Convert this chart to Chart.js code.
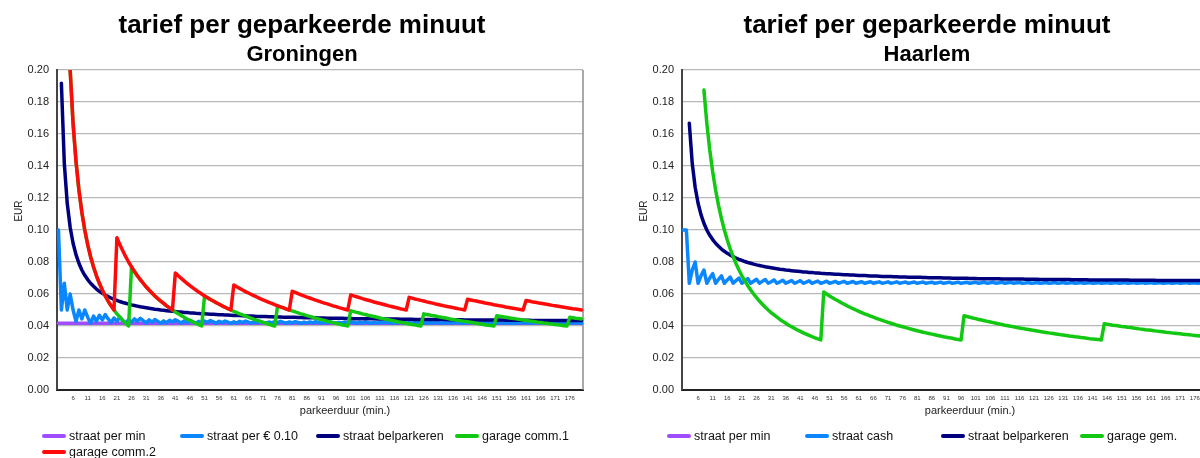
<!DOCTYPE html>
<html><head><meta charset="utf-8">
<script src="https://cdn.jsdelivr.net/npm/chart.js@4.4.1/dist/chart.umd.min.js"></script>
<style>
html,body{margin:0;padding:0;background:#fff;}
body{width:1200px;height:458px;overflow:hidden;position:relative;font-family:"Liberation Sans",Arial,sans-serif;}
.panel{position:absolute;top:0;width:604px;height:458px;}
.panel canvas{position:absolute;left:0;top:0;}
.legend{position:absolute;left:42px;top:428px;display:grid;grid-template-columns:138px 136px 139px 140px;grid-auto-rows:16px;}
.item{display:flex;align-items:center;font-size:12.5px;color:#111;white-space:nowrap;line-height:16px;}
.mark{display:inline-block;width:24px;height:4px;margin-right:3px;border-radius:2px;}
</style></head><body>
<div class="panel" style="left:0"><canvas id="c1" width="604" height="458"></canvas><div class="legend" id="l1"></div></div>
<div class="panel" style="left:625px"><canvas id="c2" width="604" height="458"></canvas><div class="legend" id="l2"></div></div>
<script>
const minutes = [1,2,3,4,5,6,7,8,9,10,11,12,13,14,15,16,17,18,19,20,21,22,23,24,25,26,27,28,29,30,
31,32,33,34,35,36,37,38,39,40,41,42,43,44,45,46,47,48,49,50,51,52,53,54,55,56,57,58,59,60,
61,62,63,64,65,66,67,68,69,70,71,72,73,74,75,76,77,78,79,80,81,82,83,84,85,86,87,88,89,90,
91,92,93,94,95,96,97,98,99,100,101,102,103,104,105,106,107,108,109,110,111,112,113,114,115,116,117,118,119,120,
121,122,123,124,125,126,127,128,129,130,131,132,133,134,135,136,137,138,139,140,141,142,143,144,145,146,147,148,149,150,
151,152,153,154,155,156,157,158,159,160,161,162,163,164,165,166,167,168,169,170,171,172,173,174,175,176,177,178,179,180];

const yTicks = [0,0.02,0.04,0.06,0.08,0.10,0.12,0.14,0.16,0.18,0.20];

// ---------- Groningen ----------
const gronStraatPerMin = [
0.0417,0.0417,0.0417,0.0417,0.0417,0.0417,0.0417,0.0417,0.0417,0.0417,0.0417,0.0417,0.0417,0.0417,0.0417,0.0417,0.0417,0.0417,0.0417,0.0417,
0.0417,0.0417,0.0417,0.0417,0.0417,0.0417,0.0417,0.0417,0.0417,0.0417,0.0417,0.0417,0.0417,0.0417,0.0417,0.0417,0.0417,0.0417,0.0417,0.0417,
0.0417,0.0417,0.0417,0.0417,0.0417,0.0417,0.0417,0.0417,0.0417,0.0417,0.0417,0.0417,0.0417,0.0417,0.0417,0.0417,0.0417,0.0417,0.0417,0.0417,
0.0417,0.0417,0.0417,0.0417,0.0417,0.0417,0.0417,0.0417,0.0417,0.0417,0.0417,0.0417,0.0417,0.0417,0.0417,0.0417,0.0417,0.0417,0.0417,0.0417,
0.0417,0.0417,0.0417,0.0417,0.0417,0.0417,0.0417,0.0417,0.0417,0.0417,0.0417,0.0417,0.0417,0.0417,0.0417,0.0417,0.0417,0.0417,0.0417,0.0417,
0.0417,0.0417,0.0417,0.0417,0.0417,0.0417,0.0417,0.0417,0.0417,0.0417,0.0417,0.0417,0.0417,0.0417,0.0417,0.0417,0.0417,0.0417,0.0417,0.0417,
0.0417,0.0417,0.0417,0.0417,0.0417,0.0417,0.0417,0.0417,0.0417,0.0417,0.0417,0.0417,0.0417,0.0417,0.0417,0.0417,0.0417,0.0417,0.0417,0.0417,
0.0417,0.0417,0.0417,0.0417,0.0417,0.0417,0.0417,0.0417,0.0417,0.0417,0.0417,0.0417,0.0417,0.0417,0.0417,0.0417,0.0417,0.0417,0.0417,0.0417,
0.0417,0.0417,0.0417,0.0417,0.0417,0.0417,0.0417,0.0417,0.0417,0.0417,0.0417,0.0417,0.0417,0.0417,0.0417,0.0417,0.0417,0.0417,0.0417,0.0417];

const gronStraat010 = [
0.1,0.05,0.0667,0.05,0.06,0.05,0.0429,0.05,0.0444,0.05,0.0455,0.0417,
0.0462,0.0429,0.0467,0.0438,0.0471,0.0444,0.0421,0.045,0.0429,0.0455,0.0435,0.0417,
0.044,0.0423,0.0444,0.0429,0.0448,0.0433,0.0419,0.0438,0.0424,0.0441,0.0429,0.0417,
0.0432,0.0421,0.0436,0.0425,0.0439,0.0429,0.0419,0.0432,0.0422,0.0435,0.0426,0.0417,
0.0429,0.042,0.0431,0.0423,0.0434,0.0426,0.0418,0.0429,0.0421,0.0431,0.0424,0.0417,
0.0426,0.0419,0.0429,0.0422,0.0431,0.0424,0.0418,0.0426,0.042,0.0429,0.0423,0.0417,
0.0425,0.0419,0.0427,0.0421,0.0429,0.0423,0.0418,0.0425,0.042,0.0427,0.0422,0.0417,
0.0424,0.0419,0.0425,0.042,0.0427,0.0422,0.0418,0.0424,0.0419,0.0426,0.0421,0.0417,
0.0423,0.0418,0.0424,0.042,0.0426,0.0422,0.0417,0.0423,0.0419,0.0425,0.0421,0.0417,
0.0422,0.0418,0.0423,0.042,0.0425,0.0421,0.0417,0.0422,0.0419,0.0424,0.042,0.0417,
0.0421,0.0418,0.0423,0.0419,0.0424,0.0421,0.0417,0.0422,0.0419,0.0423,0.042,0.0417,
0.0421,0.0418,0.0422,0.0419,0.0423,0.042,0.0417,0.0421,0.0418,0.0423,0.042,0.0417,
0.0421,0.0418,0.0422,0.0419,0.0423,0.042,0.0417,0.0421,0.0418,0.0422,0.0419,0.0417,
0.042,0.0418,0.0421,0.0419,0.0422,0.042,0.0417,0.0421,0.0418,0.0422,0.0419,0.0417,
0.042,0.0418,0.0421,0.0419,0.0422,0.042,0.0417,0.042,0.0418,0.0421,0.0419,0.0417];

const gronBel = [
null,0.1917,0.1417,0.1167,0.1017,0.0917,0.0846,0.0792,0.075,0.0717,
0.069,0.0667,0.0648,0.0631,0.0617,0.0604,0.0593,0.0584,0.0575,0.0567,
0.056,0.0553,0.0547,0.0542,0.0537,0.0532,0.0528,0.0524,0.052,0.0517,
0.0514,0.0511,0.0508,0.0505,0.0503,0.05,0.0498,0.0496,0.0494,0.0492,
0.049,0.0488,0.0487,0.0485,0.0484,0.0482,0.0481,0.0479,0.0478,0.0477,
0.0476,0.0475,0.0474,0.0473,0.0472,0.0471,0.047,0.0469,0.0468,0.0467,
0.0466,0.0465,0.0465,0.0464,0.0463,0.0462,0.0462,0.0461,0.046,0.046,
0.0459,0.0459,0.0458,0.0458,0.0457,0.0456,0.0456,0.0455,0.0455,0.0454,
0.0454,0.0454,0.0453,0.0453,0.0452,0.0452,0.0451,0.0451,0.0451,0.045,
0.045,0.045,0.0449,0.0449,0.0449,0.0448,0.0448,0.0448,0.0447,0.0447,
0.0447,0.0446,0.0446,0.0446,0.0446,0.0445,0.0445,0.0445,0.0445,0.0444,
0.0444,0.0444,0.0444,0.0443,0.0443,0.0443,0.0443,0.0442,0.0442,0.0442,
0.0442,0.0442,0.0441,0.0441,0.0441,0.0441,0.0441,0.044,0.044,0.044,
0.044,0.044,0.044,0.0439,0.0439,0.0439,0.0439,0.0439,0.0439,0.0438,
0.0438,0.0438,0.0438,0.0438,0.0438,0.0438,0.0437,0.0437,0.0437,0.0437,
0.0437,0.0437,0.0437,0.0436,0.0436,0.0436,0.0436,0.0436,0.0436,0.0436,
0.0436,0.0436,0.0435,0.0435,0.0435,0.0435,0.0435,0.0435,0.0435,0.0435,
0.0435,0.0434,0.0434,0.0434,0.0434,0.0434,0.0434,0.0434,0.0434,0.0434];

const gronComm1 = [
null,null,null,null,
0.2,0.1667,0.1429,0.125,0.1111,0.1,0.0909,0.0833,0.0769,0.0714,0.0667,0.0625,0.0588,0.0556,0.0526,0.05,0.0476,0.0455,0.0435,0.0417,0.04,
0.0769,0.0741,0.0714,0.069,0.0667,0.0645,0.0625,0.0606,0.0588,0.0571,0.0556,0.0541,0.0526,0.0513,0.05,0.0488,0.0476,0.0465,0.0455,0.0444,0.0435,0.0426,0.0417,0.0408,0.04,
0.0588,0.0577,0.0566,0.0556,0.0545,0.0536,0.0526,0.0517,0.0508,0.05,0.0492,0.0484,0.0476,0.0469,0.0462,0.0455,0.0448,0.0441,0.0435,0.0429,0.0423,0.0417,0.0411,0.0405,0.04,
0.0526,0.0519,0.0513,0.0506,0.05,0.0494,0.0488,0.0482,0.0476,0.0471,0.0465,0.046,0.0455,0.0449,0.0444,0.044,0.0435,0.043,0.0426,0.0421,0.0417,0.0412,0.0408,0.0404,0.04,
0.0495,0.049,0.0485,0.0481,0.0476,0.0472,0.0467,0.0463,0.0459,0.0455,0.045,0.0446,0.0442,0.0439,0.0435,0.0431,0.0427,0.0424,0.042,0.0417,0.0413,0.041,0.0407,0.0403,0.04,
0.0476,0.0472,0.0469,0.0465,0.0462,0.0458,0.0455,0.0451,0.0448,0.0444,0.0441,0.0438,0.0435,0.0432,0.0429,0.0426,0.0423,0.042,0.0417,0.0414,0.0411,0.0408,0.0405,0.0403,0.04,
0.0464,0.0461,0.0458,0.0455,0.0452,0.0449,0.0446,0.0443,0.044,0.0438,0.0435,0.0432,0.0429,0.0427,0.0424,0.0422,0.0419,0.0417,0.0414,0.0412,0.0409,0.0407,0.0405,0.0402,0.04,
0.0455,0.0452,0.0449,0.0447,0.0444];

const gronComm2 = [
null,null,null,null,
0.2,0.1667,0.1429,0.125,0.1111,0.1,0.0909,0.0833,0.0769,0.0714,0.0667,0.0625,0.0588,0.0556,0.0526,0.05,
0.0952,0.0909,0.087,0.0833,0.08,0.0769,0.0741,0.0714,0.069,0.0667,0.0645,0.0625,0.0606,0.0588,0.0571,0.0556,0.0541,0.0526,0.0513,0.05,
0.0732,0.0714,0.0698,0.0682,0.0667,0.0652,0.0638,0.0625,0.0612,0.06,0.0588,0.0577,0.0566,0.0556,0.0545,0.0536,0.0526,0.0517,0.0508,0.05,
0.0656,0.0645,0.0635,0.0625,0.0615,0.0606,0.0597,0.0588,0.058,0.0571,0.0563,0.0556,0.0548,0.0541,0.0533,0.0526,0.0519,0.0513,0.0506,0.05,
0.0617,0.061,0.0602,0.0595,0.0588,0.0581,0.0575,0.0568,0.0562,0.0556,0.0549,0.0543,0.0538,0.0532,0.0526,0.0521,0.0515,0.051,0.0505,0.05,
0.0594,0.0588,0.0583,0.0577,0.0571,0.0566,0.0561,0.0556,0.055,0.0545,0.0541,0.0536,0.0531,0.0526,0.0522,0.0517,0.0513,0.0508,0.0504,0.05,
0.0579,0.0574,0.0569,0.0565,0.056,0.0556,0.0551,0.0547,0.0543,0.0538,0.0534,0.053,0.0526,0.0522,0.0519,0.0515,0.0511,0.0507,0.0504,0.05,
0.0567,0.0563,0.0559,0.0556,0.0552,0.0548,0.0544,0.0541,0.0537,0.0533,0.053,0.0526,0.0523,0.0519,0.0516,0.0513,0.051,0.0506,0.0503,0.05,
0.0559,0.0556,0.0552,0.0549,0.0545,0.0542,0.0539,0.0536,0.0533,0.0529,0.0526,0.0523,0.052,0.0517,0.0514,0.0511,0.0508,0.0506,0.0503,0.05];

// ---------- Haarlem ----------
// 'straat per min' is listed in the Haarlem legend but no line of it is visible in the plot
const haarStraatPerMin = [];

const haarCash = [
0.1,0.1,0.0667,0.075,0.08,0.0667,0.0714,0.075,0.0667,0.07,0.0727,0.0667,
0.0692,0.0714,0.0667,0.0688,0.0706,0.0667,0.0684,0.07,0.0667,0.0682,0.0696,0.0667,
0.068,0.0692,0.0667,0.0679,0.069,0.0667,0.0677,0.0688,0.0667,0.0676,0.0686,0.0667,
0.0676,0.0684,0.0667,0.0675,0.0683,0.0667,0.0674,0.0682,0.0667,0.0674,0.0681,0.0667,
0.0673,0.068,0.0667,0.0673,0.0679,0.0667,0.0673,0.0679,0.0667,0.0672,0.0678,0.0667,
0.0672,0.0677,0.0667,0.0672,0.0677,0.0667,0.0672,0.0676,0.0667,0.0671,0.0676,0.0667,
0.0671,0.0676,0.0667,0.0671,0.0675,0.0667,0.0671,0.0675,0.0667,0.0671,0.0675,0.0667,
0.0671,0.0674,0.0667,0.067,0.0674,0.0667,0.067,0.0674,0.0667,0.067,0.0674,0.0667,
0.067,0.0673,0.0667,0.067,0.0673,0.0667,0.067,0.0673,0.0667,0.067,0.0673,0.0667,
0.067,0.0673,0.0667,0.067,0.0673,0.0667,0.067,0.0672,0.0667,0.0669,0.0672,0.0667,
0.0669,0.0672,0.0667,0.0669,0.0672,0.0667,0.0669,0.0672,0.0667,0.0669,0.0672,0.0667,
0.0669,0.0672,0.0667,0.0669,0.0672,0.0667,0.0669,0.0671,0.0667,0.0669,0.0671,0.0667,
0.0669,0.0671,0.0667,0.0669,0.0671,0.0667,0.0669,0.0671,0.0667,0.0669,0.0671,0.0667,
0.0669,0.0671,0.0667,0.0669,0.0671,0.0667,0.0669,0.0671,0.0667,0.0669,0.0671,0.0667,
0.0669,0.0671,0.0667,0.0669,0.0671,0.0667,0.0669,0.067,0.0667,0.0669,0.067,0.0667];

const haarBel = [
null,null,0.1667,0.1417,0.1267,0.1167,0.1096,0.1042,0.1,0.0967,
0.094,0.0917,0.0898,0.0881,0.0867,0.0854,0.0843,0.0834,0.0825,0.0817,
0.081,0.0803,0.0797,0.0792,0.0787,0.0782,0.0778,0.0774,0.077,0.0767,
0.0764,0.0761,0.0758,0.0755,0.0753,0.075,0.0748,0.0746,0.0744,0.0742,
0.074,0.0738,0.0737,0.0735,0.0734,0.0732,0.0731,0.0729,0.0728,0.0727,
0.0726,0.0725,0.0724,0.0723,0.0722,0.0721,0.072,0.0719,0.0718,0.0717,
0.0716,0.0715,0.0715,0.0714,0.0713,0.0712,0.0712,0.0711,0.071,0.071,
0.0709,0.0709,0.0708,0.0708,0.0707,0.0706,0.0706,0.0705,0.0705,0.0704,
0.0704,0.0704,0.0703,0.0703,0.0702,0.0702,0.0701,0.0701,0.0701,0.07,
0.07,0.07,0.0699,0.0699,0.0699,0.0698,0.0698,0.0698,0.0697,0.0697,
0.0697,0.0696,0.0696,0.0696,0.0696,0.0695,0.0695,0.0695,0.0695,0.0694,
0.0694,0.0694,0.0694,0.0693,0.0693,0.0693,0.0693,0.0692,0.0692,0.0692,
0.0692,0.0692,0.0691,0.0691,0.0691,0.0691,0.0691,0.069,0.069,0.069,
0.069,0.069,0.069,0.0689,0.0689,0.0689,0.0689,0.0689,0.0689,0.0688,
0.0688,0.0688,0.0688,0.0688,0.0688,0.0688,0.0687,0.0687,0.0687,0.0687,
0.0687,0.0687,0.0687,0.0686,0.0686,0.0686,0.0686,0.0686,0.0686,0.0686,
0.0686,0.0686,0.0685,0.0685,0.0685,0.0685,0.0685,0.0685,0.0685,0.0685,
0.0685,0.0684,0.0684,0.0684,0.0684,0.0684,0.0684,0.0684,0.0684,0.0684];

const haarGem = [
null,null,null,null,null,null,null,
0.1875,0.1667,0.15,0.1364,0.125,0.1154,0.1071,0.1,0.0938,0.0882,0.0833,0.0789,0.075,0.0714,0.0682,0.0652,0.0625,0.06,0.0577,0.0556,0.0536,0.0517,0.05,
0.0484,0.0469,0.0455,0.0441,0.0429,0.0417,0.0405,0.0395,0.0385,0.0375,0.0366,0.0357,0.0349,0.0341,0.0333,0.0326,0.0319,0.0313,
0.0612,0.06,0.0588,0.0577,0.0566,0.0556,0.0545,0.0536,0.0526,0.0517,0.0508,0.05,
0.0492,0.0484,0.0476,0.0469,0.0462,0.0455,0.0448,0.0441,0.0435,0.0429,0.0423,0.0417,
0.0411,0.0405,0.04,0.0395,0.039,0.0385,0.038,0.0375,0.037,0.0366,0.0361,0.0357,
0.0353,0.0349,0.0345,0.0341,0.0337,0.0333,0.033,0.0326,0.0323,0.0319,0.0316,0.0313,
0.0464,0.0459,0.0455,0.045,0.0446,0.0441,0.0437,0.0433,0.0429,0.0425,0.0421,0.0417,
0.0413,0.0409,0.0405,0.0402,0.0398,0.0395,0.0391,0.0388,0.0385,0.0381,0.0378,0.0375,
0.0372,0.0369,0.0366,0.0363,0.036,0.0357,0.0354,0.0352,0.0349,0.0346,0.0344,0.0341,
0.0338,0.0336,0.0333,0.0331,0.0328,0.0326,0.0324,0.0321,0.0319,0.0317,0.0315,0.0313,
0.0414,0.0411,0.0408,0.0405,0.0403,0.04,0.0397,0.0395,0.0392,0.039,0.0387,0.0385,
0.0382,0.038,0.0377,0.0375,0.0373,0.037,0.0368,0.0366,0.0364,0.0361,0.0359,0.0357,
0.0355,0.0353,0.0351,0.0349,0.0347,0.0345,0.0343,0.0341,0.0339,0.0337,0.0335,0.0333];

const FONT = '"Liberation Sans", Arial, sans-serif';
const C_PURPLE = '#a04cff', C_LBLUE = '#0a86ff', C_DBLUE = '#00007e', C_GREEN = '#12c812', C_RED = '#ff0a0a';

const frameAndTitles = {
  id: 'frameAndTitles',
  beforeDatasetsDraw(chart) {
    const {ctx, chartArea: a} = chart;
    ctx.save();
    ctx.strokeStyle = '#8c8c8c'; ctx.lineWidth = 1.5;
    ctx.beginPath(); ctx.moveTo(a.right, a.top); ctx.lineTo(a.right, a.bottom); ctx.stroke();
    ctx.restore();
  },
  afterDraw(chart, args, opts) {
    const {ctx, chartArea: a} = chart;
    ctx.save();
    ctx.fillStyle = '#222'; ctx.textAlign = 'center'; ctx.textBaseline = 'middle';
    ctx.font = '11px ' + FONT;
    ctx.fillText(opts.xTitle, (a.left + a.right) / 2 + 25, a.bottom + 21);
    ctx.translate(19, (a.top + a.bottom) / 2 - 19);
    ctx.rotate(-Math.PI / 2);
    ctx.font = '10px ' + FONT;
    ctx.fillText(opts.yTitle, 0, 0);
    ctx.restore();
  }
};

const htmlLegend = {
  id: 'htmlLegend',
  afterUpdate(chart, args, opts) {
    const box = document.getElementById(opts.containerID);
    box.innerHTML = '';
    chart.data.datasets.forEach(ds => {
      const it = document.createElement('div'); it.className = 'item';
      const mk = document.createElement('span'); mk.className = 'mark'; mk.style.background = ds.borderColor;
      const tx = document.createElement('span'); tx.textContent = ds.label;
      it.appendChild(mk); it.appendChild(tx); box.appendChild(it);
    });
  }
};

function series(label, data, color, order) {
  return {label, data, borderColor: color, backgroundColor: color, borderWidth: 3.5,
    pointRadius: 0, tension: 0, order, borderCapStyle: 'round', borderJoinStyle: 'round'};
}

function makeChart(canvasId, legendId, city, datasets) {
  return new Chart(document.getElementById(canvasId), {
    type: 'line',
    data: {labels: minutes, datasets},
    options: {
      responsive: false, animation: false, events: [],
      layout: {padding: {left: 21, right: 21, top: 0, bottom: 52}},
      plugins: {
        legend: {display: false},
        tooltip: {enabled: false},
        title: {display: true, text: 'tarief per geparkeerde minuut', color: '#000',
          font: {family: FONT, size: 26, weight: 'bold'}, padding: {top: 10, bottom: 0}},
        subtitle: {display: true, text: city, color: '#000',
          font: {family: FONT, size: 22, weight: 'bold'}, padding: {top: 1, bottom: 1.4}},
        frameAndTitles: {xTitle: 'parkeerduur (min.)', yTitle: 'EUR'},
        htmlLegend: {containerID: legendId}
      },
      scales: {
        x: {
          type: 'category', offset: true,
          grid: {display: false, drawTicks: false},
          border: {display: true, color: '#222', width: 2},
          ticks: {autoSkip: false, maxRotation: 0, minRotation: 0, padding: 5,
            font: {family: FONT, size: 6}, color: '#333',
            callback: (v, i) => (minutes[i] > 1 && (minutes[i] - 1) % 5 === 0) ? String(minutes[i]) : ''},
          afterFit: s => { s.height = 16; }
        },
        y: {
          min: yTicks[0], max: yTicks[yTicks.length - 1],
          afterBuildTicks: s => { s.ticks = yTicks.map(v => ({value: v})); },
          ticks: {font: {family: FONT, size: 11}, color: '#222', padding: 8,
            callback: v => Number(v).toFixed(2)},
          grid: {color: '#b8b8b8', lineWidth: 1.2, drawTicks: false},
          border: {display: true, color: '#454545', width: 2},
          afterFit: s => { s.width = 36; }
        }
      }
    },
    plugins: [frameAndTitles, htmlLegend]
  });
}

makeChart('c1', 'l1', 'Groningen', [
  series('straat per min', gronStraatPerMin, C_PURPLE, 5),
  series('straat per € 0.10', gronStraat010, C_LBLUE, 4),
  series('straat belparkeren', gronBel, C_DBLUE, 3),
  series('garage comm.1', gronComm1, C_GREEN, 2),
  series('garage comm.2', gronComm2, C_RED, 1)
]);

makeChart('c2', 'l2', 'Haarlem', [
  series('straat per min', haarStraatPerMin, C_PURPLE, 5),
  series('straat cash', haarCash, C_LBLUE, 4),
  series('straat belparkeren', haarBel, C_DBLUE, 3),
  series('garage gem.', haarGem, C_GREEN, 2)
]);
</script>
</body></html>
